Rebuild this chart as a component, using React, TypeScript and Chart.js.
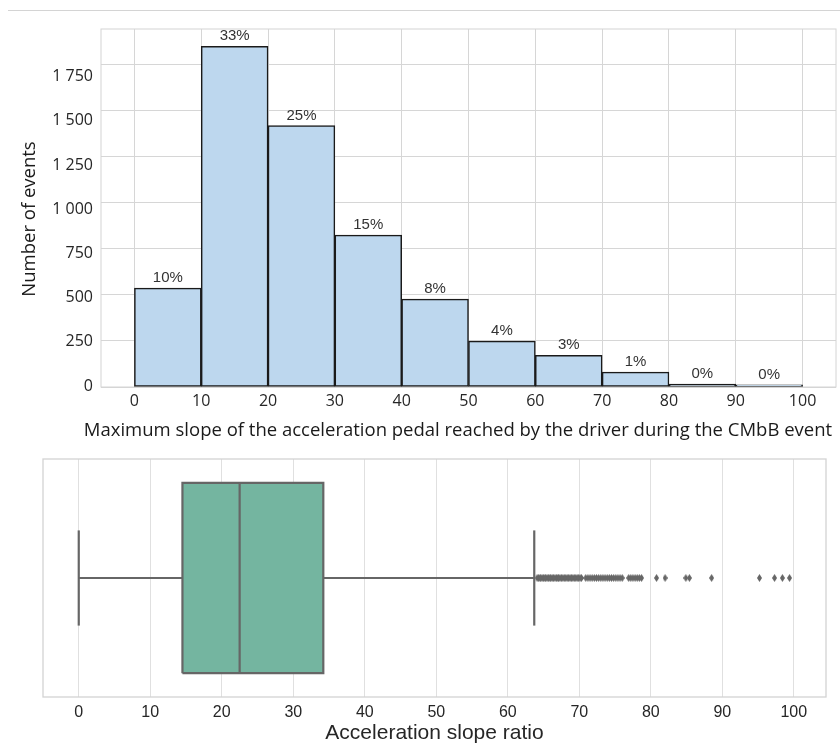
import React, { useEffect, useRef } from 'react';
import { Chart, registerables } from 'chart.js';

Chart.register(...registerables);

// ---------- Histogram data ----------
const binStarts = [0, 10, 20, 30, 40, 50, 60, 70, 80, 90];
const binWidth = 10;
const eventCounts = [536, 1846, 1417, 823, 476, 249, 171, 81, 16, 12];
const percentLabels = ['10%', '33%', '25%', '15%', '8%', '4%', '3%', '1%', '0%', '0%'];
const histXTicks = [0, 10, 20, 30, 40, 50, 60, 70, 80, 90, 100];
const histYTicks = [0, 250, 500, 750, 1000, 1250, 1500, 1750];
const histXTitle = 'Maximum slope of the acceleration pedal reached by the driver during the CMbB event';
const histYTitle = 'Number of events';

// ---------- Box plot data ----------
const boxQ1 = 14.5;
const boxMedian = 22.5;
const boxQ3 = 34.2;
const whiskerLow = 0;
const whiskerHigh = 63.7;
const outlierValues = [
  64.1, 64.3, 64.5, 64.6, 64.8, 65.0, 65.2, 65.3, 65.5, 65.7, 65.9, 66.0, 66.2, 66.4, 66.6, 66.8,
  67.0, 67.1, 67.3, 67.5, 67.7, 67.9, 68.1, 68.3, 68.5, 68.7, 68.9, 69.1, 69.3, 69.5, 69.7, 69.9,
  70.1, 70.3, 70.9, 71.2, 71.5, 71.8, 72.1, 72.4, 72.7, 73.0, 73.3, 73.6, 73.9, 74.2, 74.5, 74.8,
  75.1, 75.4, 75.7, 76.0, 76.9, 77.2, 77.5, 77.8, 78.1, 78.4, 78.7,
  80.8, 82.0, 84.9, 85.4, 88.5, 95.2, 97.3, 98.4, 99.4,
];
const boxXTicks = [0, 10, 20, 30, 40, 50, 60, 70, 80, 90, 100];
const boxXTitle = 'Acceleration slope ratio';

// ---------- Styles ----------
const BOX_HALF = 0.4;
const CAP_HALF = 0.2;
const LINE_GRAY = '#666666';
const BOX_FILL = '#74b5a0';

const fmtThousands = (v: number) =>
  v >= 1000 ? `${Math.floor(v / 1000)} ${String(v % 1000).padStart(3, '0')}` : String(v);

const framePlugin = (color: string, width: number) => ({
  id: 'frame',
  beforeDatasetsDraw(chart: any) {
    const { ctx, chartArea: a } = chart;
    ctx.save();
    ctx.strokeStyle = color;
    ctx.lineWidth = width;
    ctx.strokeRect(a.left, a.top, a.right - a.left, a.bottom - a.top);
    ctx.restore();
  },
});

const pctLabelPlugin = {
  id: 'pctLabels',
  afterDatasetsDraw(chart: any) {
    const { ctx } = chart;
    const meta = chart.getDatasetMeta(0);
    ctx.save();
    ctx.font = '15px "Liberation Sans", Arial, sans-serif';
    ctx.fillStyle = '#333333';
    ctx.textAlign = 'center';
    ctx.textBaseline = 'alphabetic';
    meta.data.forEach((bar: any, i: number) => {
      ctx.fillText(percentLabels[i], bar.x, bar.y - 6);
    });
    ctx.restore();
  },
};

export default function App() {
  const topRef = useRef<HTMLCanvasElement | null>(null);
  const botRef = useRef<HTMLCanvasElement | null>(null);

  useEffect(() => {
    const tickFont = { family: '"Open Sans", sans-serif', size: 16 };
    const top = new Chart(topRef.current!, {
      type: 'bar',
      data: {
        datasets: [
          {
            data: binStarts.map((s, i) => ({ x: s + binWidth / 2, y: eventCounts[i] })),
            backgroundColor: '#bdd7ee',
            borderColor: '#1a1a1a',
            borderWidth: 1.5,
            borderSkipped: false,
            barPercentage: 1,
            categoryPercentage: 1,
            yAxisID: 'y',
          },
        ],
      },
      options: {
        responsive: false,
        animation: false,
        layout: { padding: { top: 29, right: 4, left: 0, bottom: 0 } },
        plugins: { legend: { display: false }, tooltip: { enabled: false } },
        scales: {
          x: {
            type: 'linear',
            min: -5,
            max: 105,
            offset: false,
            afterBuildTicks: (s: any) => { s.ticks = histXTicks.map((v) => ({ value: v })); },
            afterFit: (s: any) => { s.height = 53; },
            grid: { color: '#d6d6d6', lineWidth: 1, drawTicks: false, offset: false },
            border: { display: false },
            ticks: { font: tickFont, color: '#262626', padding: 5, maxRotation: 0 },
          },
          y: {
            type: 'linear',
            min: 0,
            max: 1940,
            afterBuildTicks: (s: any) => { s.ticks = histYTicks.map((v) => ({ value: v })); },
            afterFit: (s: any) => { s.width = 0; },
            grid: { color: '#d6d6d6', lineWidth: 1, drawTicks: false },
            border: { display: false },
            ticks: { display: false },
          },
          yLabels: {
            type: 'linear',
            position: 'left',
            min: -5.66,
            max: 2020,
            afterBuildTicks: (s: any) => { s.ticks = histYTicks.map((v) => ({ value: v })); },
            afterFit: (s: any) => { s.width = 101; },
            grid: { display: false, drawTicks: false },
            border: { display: false },
            ticks: { font: tickFont, color: '#262626', padding: 8, callback: (v: any) => fmtThousands(Number(v)) },
          },
        },
      } as any,
      plugins: [framePlugin('#d4d4d4', 1), pctLabelPlugin],
    });

    // thin diamond marker for outliers
    const diamond = document.createElement('canvas');
    diamond.width = 5;
    diamond.height = 8;
    const dctx = diamond.getContext('2d')!;
    dctx.fillStyle = LINE_GRAY;
    dctx.beginPath();
    dctx.moveTo(2.5, 0);
    dctx.lineTo(5, 4);
    dctx.lineTo(2.5, 8);
    dctx.lineTo(0, 4);
    dctx.closePath();
    dctx.fill();

    const lineDs = (data: { x: number; y: number }[], extra: any = {}) => ({
      type: 'line',
      data,
      borderColor: LINE_GRAY,
      borderWidth: 2.2,
      pointRadius: 0,
      fill: false,
      tension: 0,
      ...extra,
    });

    const bot = new Chart(botRef.current!, {
      type: 'scatter',
      data: {
        datasets: [
          {
            type: 'scatter',
            data: outlierValues.map((v) => ({ x: v, y: 0 })),
            pointStyle: diamond,
            pointRadius: 3,
            backgroundColor: LINE_GRAY,
            borderColor: LINE_GRAY,
          },
          lineDs([{ x: boxMedian, y: -BOX_HALF }, { x: boxMedian, y: BOX_HALF }]),
          lineDs([{ x: whiskerLow, y: 0 }, { x: boxQ1, y: 0 }]),
          lineDs([{ x: boxQ3, y: 0 }, { x: whiskerHigh, y: 0 }]),
          lineDs([{ x: whiskerLow, y: -CAP_HALF }, { x: whiskerLow, y: CAP_HALF }]),
          lineDs([{ x: whiskerHigh, y: -CAP_HALF }, { x: whiskerHigh, y: CAP_HALF }]),
          lineDs([
            { x: boxQ1, y: -BOX_HALF },
            { x: boxQ3, y: -BOX_HALF },
            { x: boxQ3, y: BOX_HALF },
            { x: boxQ1, y: BOX_HALF },
            { x: boxQ1, y: -BOX_HALF },
          ]),
          lineDs([{ x: boxQ1, y: BOX_HALF }, { x: boxQ3, y: BOX_HALF }], {
            borderWidth: 0,
            fill: { value: -BOX_HALF },
            backgroundColor: BOX_FILL,
          }),
        ],
      },
      options: {
        responsive: false,
        animation: false,
        layout: { padding: { top: 19, right: 14, left: 43, bottom: 0 } },
        plugins: { legend: { display: false }, tooltip: { enabled: false } },
        scales: {
          x: {
            type: 'linear',
            min: -5.0,
            max: 104.5,
            afterBuildTicks: (s: any) => { s.ticks = boxXTicks.map((v) => ({ value: v })); },
            afterFit: (s: any) => { s.height = 50; },
            grid: { color: '#e0e0e0', lineWidth: 1, drawTicks: false },
            border: { display: false },
            ticks: { font: { family: '"Liberation Sans", Arial, sans-serif', size: 16 }, color: '#262626', padding: 6, maxRotation: 0 },
            title: {
              display: true,
              text: boxXTitle,
              font: { family: '"Liberation Sans", Arial, sans-serif', size: 21 },
              color: '#262626',
              padding: { top: 0, bottom: 1 },
            },
          },
          y: { type: 'linear', min: -0.5, max: 0.5, display: false },
        },
      } as any,
      plugins: [framePlugin('#d3d3d3', 1.3)],
    });

    return () => {
      top.destroy();
      bot.destroy();
    };
  }, []);

  return (
    <div style={{ position: 'absolute', left: 0, top: 0, width: 840, height: 747, overflow: 'hidden', background: '#ffffff' }}>
      <div style={{ position: 'absolute', left: 8, top: 10, width: 832, height: 1, background: '#d4d4d4' }} />
      <canvas ref={topRef} width={840} height={440} style={{ position: 'absolute', left: 0, top: 0 }} />
      <div
        style={{
          position: 'absolute',
          left: 27.7 - 110,
          top: 218.5 - 11,
          width: 220,
          height: 22,
          textAlign: 'center',
          whiteSpace: 'nowrap',
          fontFamily: '"Open Sans", sans-serif',
          fontSize: 18.5,
          lineHeight: '22px',
          color: '#1a1a1a',
          transform: 'rotate(-90deg)',
          transformOrigin: '50% 50%',
        }}
      >
        {histYTitle}
      </div>
      <div
        style={{
          position: 'absolute',
          left: 58,
          top: 418,
          width: 800,
          textAlign: 'center',
          whiteSpace: 'nowrap',
          fontFamily: '"Open Sans", sans-serif',
          fontSize: 18.5,
          lineHeight: '22px',
          color: '#1a1a1a',
        }}
      >
        {histXTitle}
      </div>
      <canvas ref={botRef} width={840} height={307} style={{ position: 'absolute', left: 0, top: 440 }} />
    </div>
  );
}
